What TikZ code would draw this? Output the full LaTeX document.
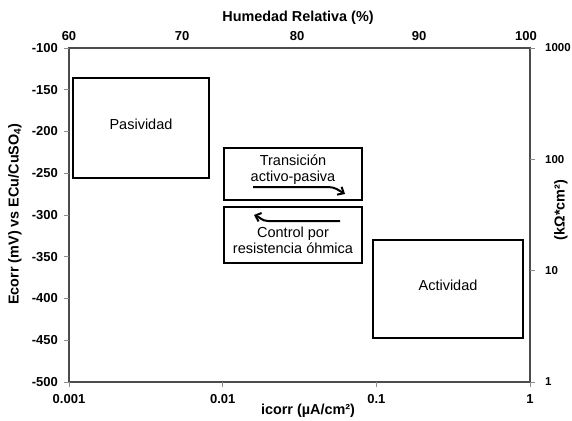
\documentclass[tikz,border=0pt]{standalone}
\usepackage{fontspec}
\setmainfont{Liberation Sans}
\usetikzlibrary{arrows.meta}
\tikzset{
  ticklab/.style={font=\fontsize{13}{15}\selectfont\bfseries, inner sep=1pt},
  ticklabr/.style={font=\fontsize{11.5}{14}\selectfont\bfseries, inner sep=0pt},
  axtitle/.style={font=\fontsize{14.4}{17}\selectfont\bfseries, inner sep=0pt},
  zona/.style={draw=black, line width=1.2pt, font=\fontsize{14.5}{17}\selectfont, inner sep=0pt},
  rotulo/.style={font=\fontsize{14.5}{16}\selectfont, align=center, inner sep=0pt},
  marca/.style={draw=black!45, line width=0.8pt},
  flecha/.style={line width=2pt, -{Straight Barb[length=5pt,width=9pt]}},
}
\begin{document}
\begin{tikzpicture}[x=1pt,y=-1pt]
\useasboundingbox (0,0) rectangle (572,420);
% marco del grafico
\draw[line width=1.4pt, draw=black!70] (69,48) rectangle (530,382);
% eje izquierdo: Ecorr
\foreach \v [count=\i from 0] in {-100,-150,...,-500} {
  \draw[marca] (64,48+41.75*\i) -- (69,48+41.75*\i);
  \node[ticklab, anchor=east] (ey\i) at (59,48+41.75*\i) {\v};
}
% eje inferior: icorr
\foreach \v [count=\i from 0] in {0.001,0.01,0.1,1} {
  \draw[marca] (69+153.67*\i,382) -- (69+153.67*\i,387);
  \node[ticklab] (ex\i) at (69+153.67*\i,399) {\v};
}
% eje derecho: resistencia
\foreach \v [count=\i from 0] in {1000,100,10,1} {
  \draw[marca] (530,48+111.33*\i) -- (535,48+111.33*\i);
  \node[ticklabr, anchor=west] (er\i) at (545,48+111.33*\i) {\v};
}
% eje superior: humedad
\foreach \v/\x [count=\i] in {60/69,70/182,80/297,90/419,100/526} {
  \node[ticklab] (eh\i) at (\x,36) {\v};
}
% titulos
\node[axtitle] (thum) at (298,18) {Humedad Relativa (\%)};
\node[axtitle] (ticorr) at (308,411) {icorr (µA/cm²)};
\node[axtitle, rotate=90] (tecorr) at (15,214) {Ecorr (mV) vs ECu/CuSO\textsubscript{4})};
\node[axtitle, rotate=90] (tres) at (561,210) {(kΩ*cm²)};
% zonas
\node[zona, minimum width=136pt, minimum height=100pt, text depth=8pt] (pasiv) at (141,128) {Pasividad};
\node[zona, minimum width=150pt, minimum height=98pt, text depth=8pt] (activ) at (448,289) {Actividad};
\node[zona, minimum width=138pt, minimum height=52pt] (trans) at (293,174) {};
\node[rotulo] (transtxt) at (293,169.5) {Transición\\activo-pasiva};
\node[zona, minimum width=138pt, minimum height=56pt] (ctrl) at (293,235) {};
\node[rotulo] (ctrltxt) at (293,240.5) {Control por\\resistencia óhmica};
% flechas
\coordinate (ta1) at (253,187);
\coordinate (ta2) at (345,194);
\draw[flecha] (ta1) -- (328,187) to[out=0,in=150] (ta2);
\coordinate (tc1) at (340,221);
\coordinate (tc2) at (254,215);
\draw[flecha] (tc1) -- (268,221) to[out=180,in=-20] (tc2);
\end{tikzpicture}
\end{document}
